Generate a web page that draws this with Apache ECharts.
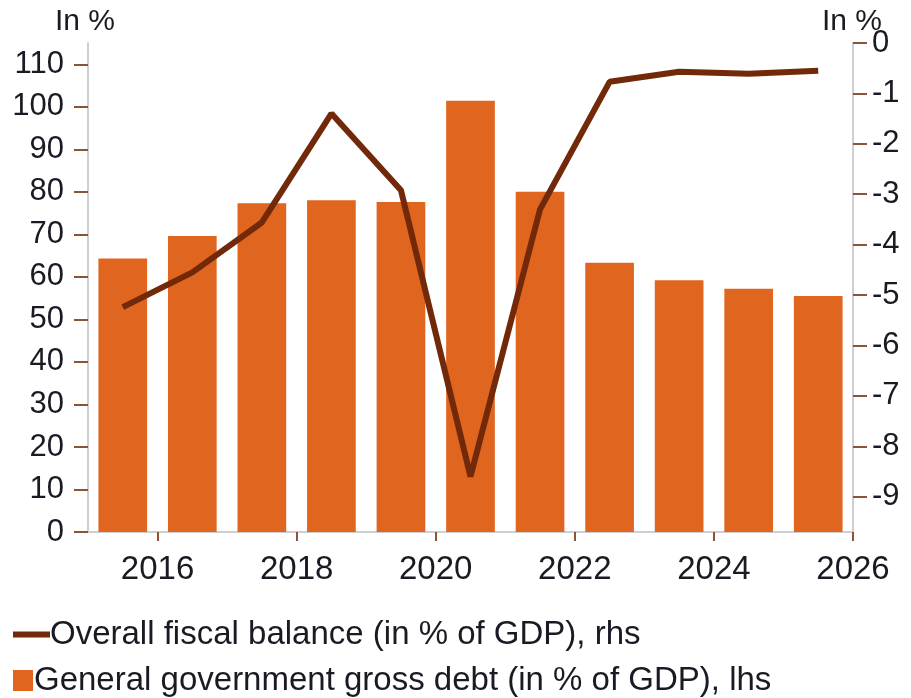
<!DOCTYPE html>
<html>
<head>
<meta charset="utf-8">
<script src="https://cdn.jsdelivr.net/npm/echarts@6/dist/echarts.min.js"></script>
<style>
html,body{margin:0;padding:0;background:#fff;}
#chart{width:911px;height:698px;}
</style>
</head>
<body>
<div id="chart"></div>
<script>
const years = [2015, 2016, 2017, 2018, 2019, 2020, 2021, 2022, 2023, 2024, 2025];
const debt = [64.3, 69.6, 77.3, 78.0, 77.6, 101.4, 80.0, 63.3, 59.2, 57.2, 55.5];
const balance = [-5.24, -4.55, -3.56, -1.40, -2.92, -8.6, -3.3, -0.77, -0.57, -0.61, -0.55];
const xTicks = [2016, 2018, 2020, 2022, 2024, 2026];
const leftTicks = [0, 10, 20, 30, 40, 50, 60, 70, 80, 90, 100, 110];
const rightTicks = [0, -1, -2, -3, -4, -5, -6, -7, -8, -9];
const debtName = 'General government gross debt (in % of GDP), lhs';
const balanceName = 'Overall fiscal balance (in % of GDP), rhs';

const FONT = 'Liberation Sans, Arial, sans-serif';
const TXT = '#1a1a24';
const BAR = '#e0651f';
const LINE = '#72290a';
const TICK = '#8c5436';
const AXIS = '#cfcfcf';

const chart = echarts.init(document.getElementById('chart'));
chart.setOption({
  animation: false,
  textStyle: { fontFamily: FONT },
  grid: { left: 88, right: 58, top: 43, bottom: 166, containLabel: false },
  title: [
    { text: 'In %', left: 50, top: 2, textStyle: { fontFamily: FONT, fontSize: 30, fontWeight: 'normal', color: TXT } },
    { text: 'In %', right: 24, top: 2, textStyle: { fontFamily: FONT, fontSize: 30, fontWeight: 'normal', color: TXT } }
  ],
  legend: [
    {
      data: [{ name: balanceName, icon: 'rect' }],
      left: 8, top: 613, orient: 'vertical',
      itemWidth: 37, itemHeight: 6, itemGap: 10,
      textStyle: { fontFamily: FONT, fontSize: 33, color: TXT, padding: [0, 0, 0, -5] },
      selectedMode: false
    },
    {
      data: [{ name: debtName, icon: 'rect' }],
      left: 8, top: 659, orient: 'vertical',
      itemWidth: 20, itemHeight: 21, itemGap: 10,
      textStyle: { fontFamily: FONT, fontSize: 33, color: TXT, padding: [0, 0, 0, -4] },
      selectedMode: false
    }
  ],
  xAxis: {
    type: 'value', min: 2015, max: 2026,
    axisLine: { show: true, lineStyle: { color: AXIS, width: 2 } },
    axisTick: { show: true, customValues: xTicks, length: 9, lineStyle: { color: TICK, width: 2 } },
    axisLabel: { customValues: xTicks, formatter: v => String(v), fontSize: 33, color: TXT, margin: 21, fontFamily: FONT },
    splitLine: { show: false }
  },
  yAxis: [
    {
      type: 'value', min: 0, max: 115, position: 'left',
      axisLine: { show: true, lineStyle: { color: AXIS, width: 2 } },
      axisTick: { show: true, customValues: leftTicks, length: 14, lineStyle: { color: TICK, width: 2 } },
      axisLabel: { customValues: leftTicks, fontSize: 31, color: TXT, margin: 24, fontFamily: FONT },
      splitLine: { show: false }
    },
    {
      type: 'value', min: -9.7, max: 0, position: 'right',
      axisLine: { show: true, lineStyle: { color: AXIS, width: 2 } },
      axisTick: { show: true, customValues: rightTicks, length: 14, lineStyle: { color: TICK, width: 2 } },
      axisLabel: { customValues: rightTicks, fontSize: 31, color: TXT, margin: 19, fontFamily: FONT },
      splitLine: { show: false }
    }
  ],
  series: [
    {
      name: debtName, type: 'bar', yAxisIndex: 0,
      barWidth: '70%',
      itemStyle: { color: BAR },
      data: years.map((y, i) => [y + 0.5, debt[i]])
    },
    {
      name: balanceName, type: 'line', yAxisIndex: 1,
      symbol: 'none', smooth: false,
      lineStyle: { color: LINE, width: 6 },
      itemStyle: { color: LINE },
      data: years.map((y, i) => [y + 0.5, balance[i]])
    }
  ]
});
</script>
</body>
</html>
